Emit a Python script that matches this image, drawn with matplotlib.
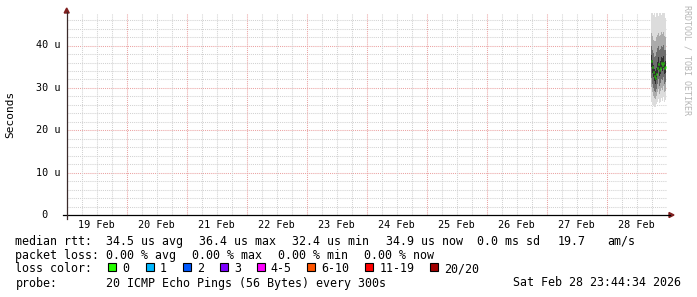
import matplotlib
matplotlib.use("Agg")
import matplotlib.pyplot as plt
from matplotlib.patches import Rectangle, Polygon
from matplotlib.lines import Line2D

W, H = 697, 297
MONO = "DejaVu Sans Mono"

# smoke columns on 28 Feb (start of each 24 min column)
times = ["17:44", "18:08", "18:32", "18:56", "19:20", "19:44", "20:08", "20:32",
         "20:56", "21:20", "21:44", "22:08", "22:32", "22:56", "23:20"]
end_time = "23:44"
# rtt distribution per column, microseconds
rtt_min = [26.8, 26.0, 25.8, 25.5, 25.6, 26.2, 26.8, 27.5, 26.4, 26.6, 27.6, 27.0, 27.8, 26.8, 27.2]
rtt_p10 = [30.2, 29.0, 28.2, 27.6, 27.4, 28.0, 29.0, 29.8, 28.6, 29.2, 30.0, 29.6, 30.4, 29.0, 29.2]
rtt_p25 = [32.4, 31.0, 30.0, 29.3, 29.0, 29.8, 31.0, 32.0, 30.5, 31.2, 32.2, 31.8, 32.5, 31.0, 31.3]
rtt_p40 = [35.0, 33.6, 32.5, 31.6, 31.0, 31.8, 33.2, 34.2, 32.8, 33.4, 34.4, 34.0, 34.7, 33.2, 33.6]
rtt_med = [36.4, 35.0, 33.8, 32.9, 32.4, 33.2, 34.6, 35.6, 34.2, 34.8, 35.8, 35.4, 36.0, 34.6, 34.9]
rtt_p60 = [37.8, 36.5, 35.4, 34.4, 34.0, 34.8, 36.2, 37.2, 35.8, 36.3, 37.4, 37.0, 37.6, 36.2, 36.4]
rtt_p75 = [40.0, 39.0, 38.2, 37.4, 37.6, 38.4, 39.4, 40.0, 39.0, 39.2, 40.0, 39.6, 40.2, 39.0, 38.9]
rtt_p90 = [43.0, 42.2, 41.4, 41.0, 41.2, 42.0, 42.4, 43.0, 42.2, 42.5, 43.2, 42.8, 43.3, 42.3, 42.0]
rtt_max = [47.6, 47.6, 47.2, 47.6, 46.8, 47.6, 47.6, 47.0, 47.6, 47.6, 47.3, 47.6, 47.6, 47.6, 46.5]

day_labels = ["19 Feb", "20 Feb", "21 Feb", "22 Feb", "23 Feb",
              "24 Feb", "25 Feb", "26 Feb", "27 Feb", "28 Feb"]
y_ticks = [0, 10, 20, 30, 40]
y_tick_labels = [" 0", "10 u", "20 u", "30 u", "40 u"]

loss_labels = ["0", "1", "2", "3", "4-5", "6-10", "11-19", "20/20"]
loss_colors = ["#26ff00", "#00b8ff", "#0059ff", "#7e00ff", "#ff00ff", "#ff5500", "#ff0000", "#a10000"]


def hours(s):
    h, m = s.split(":")
    return int(h) + int(m) / 60.0


def fx(x):
    return x / W


def fy(y):
    return 1 - y / H


fig = plt.figure(figsize=(W / 100, H / 100), dpi=100)
fig.patch.set_facecolor("white")

x0, x1, ytop, ybot = 66.7, 666.7, 13, 215
ax = fig.add_axes([fx(x0), fy(ybot), (x1 - x0) / W, (ybot - ytop) / H])
ax.set_xlim(0, 10)
ax.set_ylim(0, 47.7)
for s in ax.spines.values():
    s.set_visible(False)
ax.set_xticks([])
ax.set_yticks([])

# grid
dot = (0, (1, 1))
for k in range(1, 24):
    yv = k * 2
    c = "#eba3a3" if yv % 10 == 0 else "#d2d2d2"
    ax.axhline(yv, color=c, lw=0.75, ls=dot, zorder=0)
for q in range(1, 40):
    xv = q * 0.25
    c = "#eba3a3" if q % 4 == 0 else "#d2d2d2"
    ax.axvline(xv, color=c, lw=0.75, ls=dot, zorder=0)

# smoke
tx = [9 + hours(t) / 24 for t in times] + [9 + hours(end_time) / 24]


def ext(a):
    return a + [a[-1]]


ax.fill_between(tx, ext(rtt_min), ext(rtt_max), step="post", color="#dcdcdc", lw=0, zorder=2)
ax.fill_between(tx, ext(rtt_p10), ext(rtt_p90), step="post", color="#ababab", lw=0, zorder=3)
ax.fill_between(tx, ext(rtt_p25), ext(rtt_p75), step="post", color="#6e6e6e", lw=0, zorder=4)
ax.fill_between(tx, ext(rtt_p40), ext(rtt_p60), step="post", color="#303030", lw=0, zorder=5)
ax.hlines(rtt_med, tx[:-1], tx[1:], colors=loss_colors[0], lw=1.8, zorder=6)

# axes lines and arrows
fig.add_artist(Line2D([fx(62.5), fx(670)], [fy(ybot), fy(ybot)], color="#000000", lw=0.9))
fig.add_artist(Line2D([fx(x0), fx(x0)], [fy(219), fy(12)], color="#3a2a2a", lw=0.9))
fig.add_artist(Polygon([[fx(x0 - 2.5), fy(13)], [fx(x0 + 2.5), fy(13)], [fx(x0), fy(8)]],
                       closed=True, color="#7f1f1f"))
fig.add_artist(Polygon([[fx(669), fy(ybot - 2.5)], [fx(669), fy(ybot + 2.5)], [fx(674), fy(ybot)]],
                       closed=True, color="#7f1f1f"))

# tick labels
for i, lab in enumerate(day_labels):
    fig.text(fx(x0 + (i + 0.5) * 60), fy(225), lab, ha="center", va="center",
             fontsize=7.3, family=MONO)
for v, lab in zip(y_ticks, y_tick_labels):
    fig.text(fx(35.8), fy(ybot - v * 4.24), lab, ha="left", va="center", fontsize=7.3, family=MONO)

fig.text(fx(10.5), fy(114), "Seconds", rotation=90, ha="center", va="center", fontsize=8, family=MONO)
fig.text(fx(687), fy(5), "RRDTOOL / TOBI OETIKER", rotation=270, ha="center", va="top",
         fontsize=6, family=MONO, color="#b5b5b5")

# legend
fs = 8.4
rows = [
    (241.3, [(16, "median rtt:"), (107, "34.5 us avg"), (200, "36.4 us max"), (293, "32.4 us min"),
             (386.5, "34.9 us now"), (477.5, "0.0 ms sd"), (558, "19.7"), (608, "am/s")]),
    (255.3, [(16, "packet loss:"), (107, "0.00 % avg"), (193, "0.00 % max"), (279, "0.00 % min"),
             (365, "0.00 % now")]),
    (268.5, [(16, "loss color:")]),
    (283.0, [(16, "probe:"), (107, "20 ICMP Echo Pings (56 Bytes) every 300s"),
             (514, "Sat Feb 28 23:44:34 2026")]),
]
for yy, items in rows:
    for xx, s in items:
        fig.text(fx(xx - 0.6), fy(yy), s, ha="left", va="center", fontsize=fs, family=MONO)

sw_x = [108, 146, 183, 220, 257, 307, 365, 430]
lab_x = [123, 160, 198, 235, 271, 322, 380, 445]
for sx, lx, lab, col in zip(sw_x, lab_x, loss_labels, loss_colors):
    fig.add_artist(Rectangle((fx(sx), fy(271)), 8 / W, 8 / H, facecolor=col,
                             edgecolor="black", lw=0.8))
    fig.text(fx(lx - 0.6), fy(268.5), lab, ha="left", va="center", fontsize=fs, family=MONO)

fig.savefig("out.png", dpi=100)
